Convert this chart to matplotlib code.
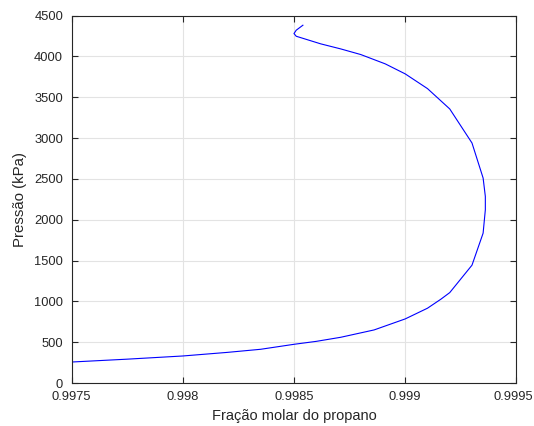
import numpy as np
import matplotlib
matplotlib.use("Agg")
import matplotlib.pyplot as plt
from matplotlib.transforms import ScaledTranslation

# --- Curve data: propane mole fraction vs pressure ---
x_propano = [0.99750, 0.99775, 0.99800, 0.99820, 0.99835, 0.99850, 0.99860,
             0.99871, 0.99886, 0.99900, 0.99910, 0.99916, 0.99920, 0.99930,
             0.99935, 0.99936, 0.99936, 0.99935, 0.99930, 0.99920, 0.99910,
             0.99900, 0.99891, 0.99880, 0.99871, 0.99862, 0.99851, 0.99850,
             0.99851, 0.99854]
pressao = [257, 292, 331, 375, 413, 474, 510,
           560, 650, 785, 916, 1026, 1107, 1443,
           1835, 2121, 2285, 2510, 2939, 3356, 3605,
           3785, 3908, 4022, 4091, 4153, 4246, 4279,
           4320, 4381]

x_ticks = [0.9975, 0.998, 0.9985, 0.999, 0.9995]
x_tick_labels = ["0.9975", "0.998", "0.9985", "0.999", "0.9995"]
y_ticks = [0, 500, 1000, 1500, 2000, 2500, 3000, 3500, 4000, 4500]

plt.rcParams['font.family'] = ['Liberation Sans', 'DejaVu Sans']

fig = plt.figure(figsize=(5.34, 4.26), dpi=100)
ax = fig.add_axes([0.1339, 0.1009, 0.9672 - 0.1339, 0.9636 - 0.1009])

ax.plot(x_propano, pressao, color='#0000ff', linewidth=0.8)

ax.set_xlim(0.9975, 0.9995)
ax.set_ylim(0, 4500)
ax.set_xticks(x_ticks)
ax.set_xticklabels(x_tick_labels)
ax.set_yticks(y_ticks)

ax.grid(True, color='#e3e3e3', linewidth=0.8)
ax.set_axisbelow(True)
ax.tick_params(direction='in', length=4, width=0.8, colors='#262626',
               labelsize=9.3, top=True, right=True, pad=6)
for s in ax.spines.values():
    s.set_color('#262626')
    s.set_linewidth(0.8)

# keep the last x label inside the figure edge
last = ax.get_xticklabels()[-1]
last.set_transform(last.get_transform() + ScaledTranslation(-3 / 100, 0, fig.dpi_scale_trans))

ax.set_xlabel("Fração molar do propano", fontsize=10.5, color='#262626')
ax.set_ylabel("Pressão (kPa)", fontsize=10.8, color='#262626', labelpad=5)

fig.savefig("out.png", dpi=100)
